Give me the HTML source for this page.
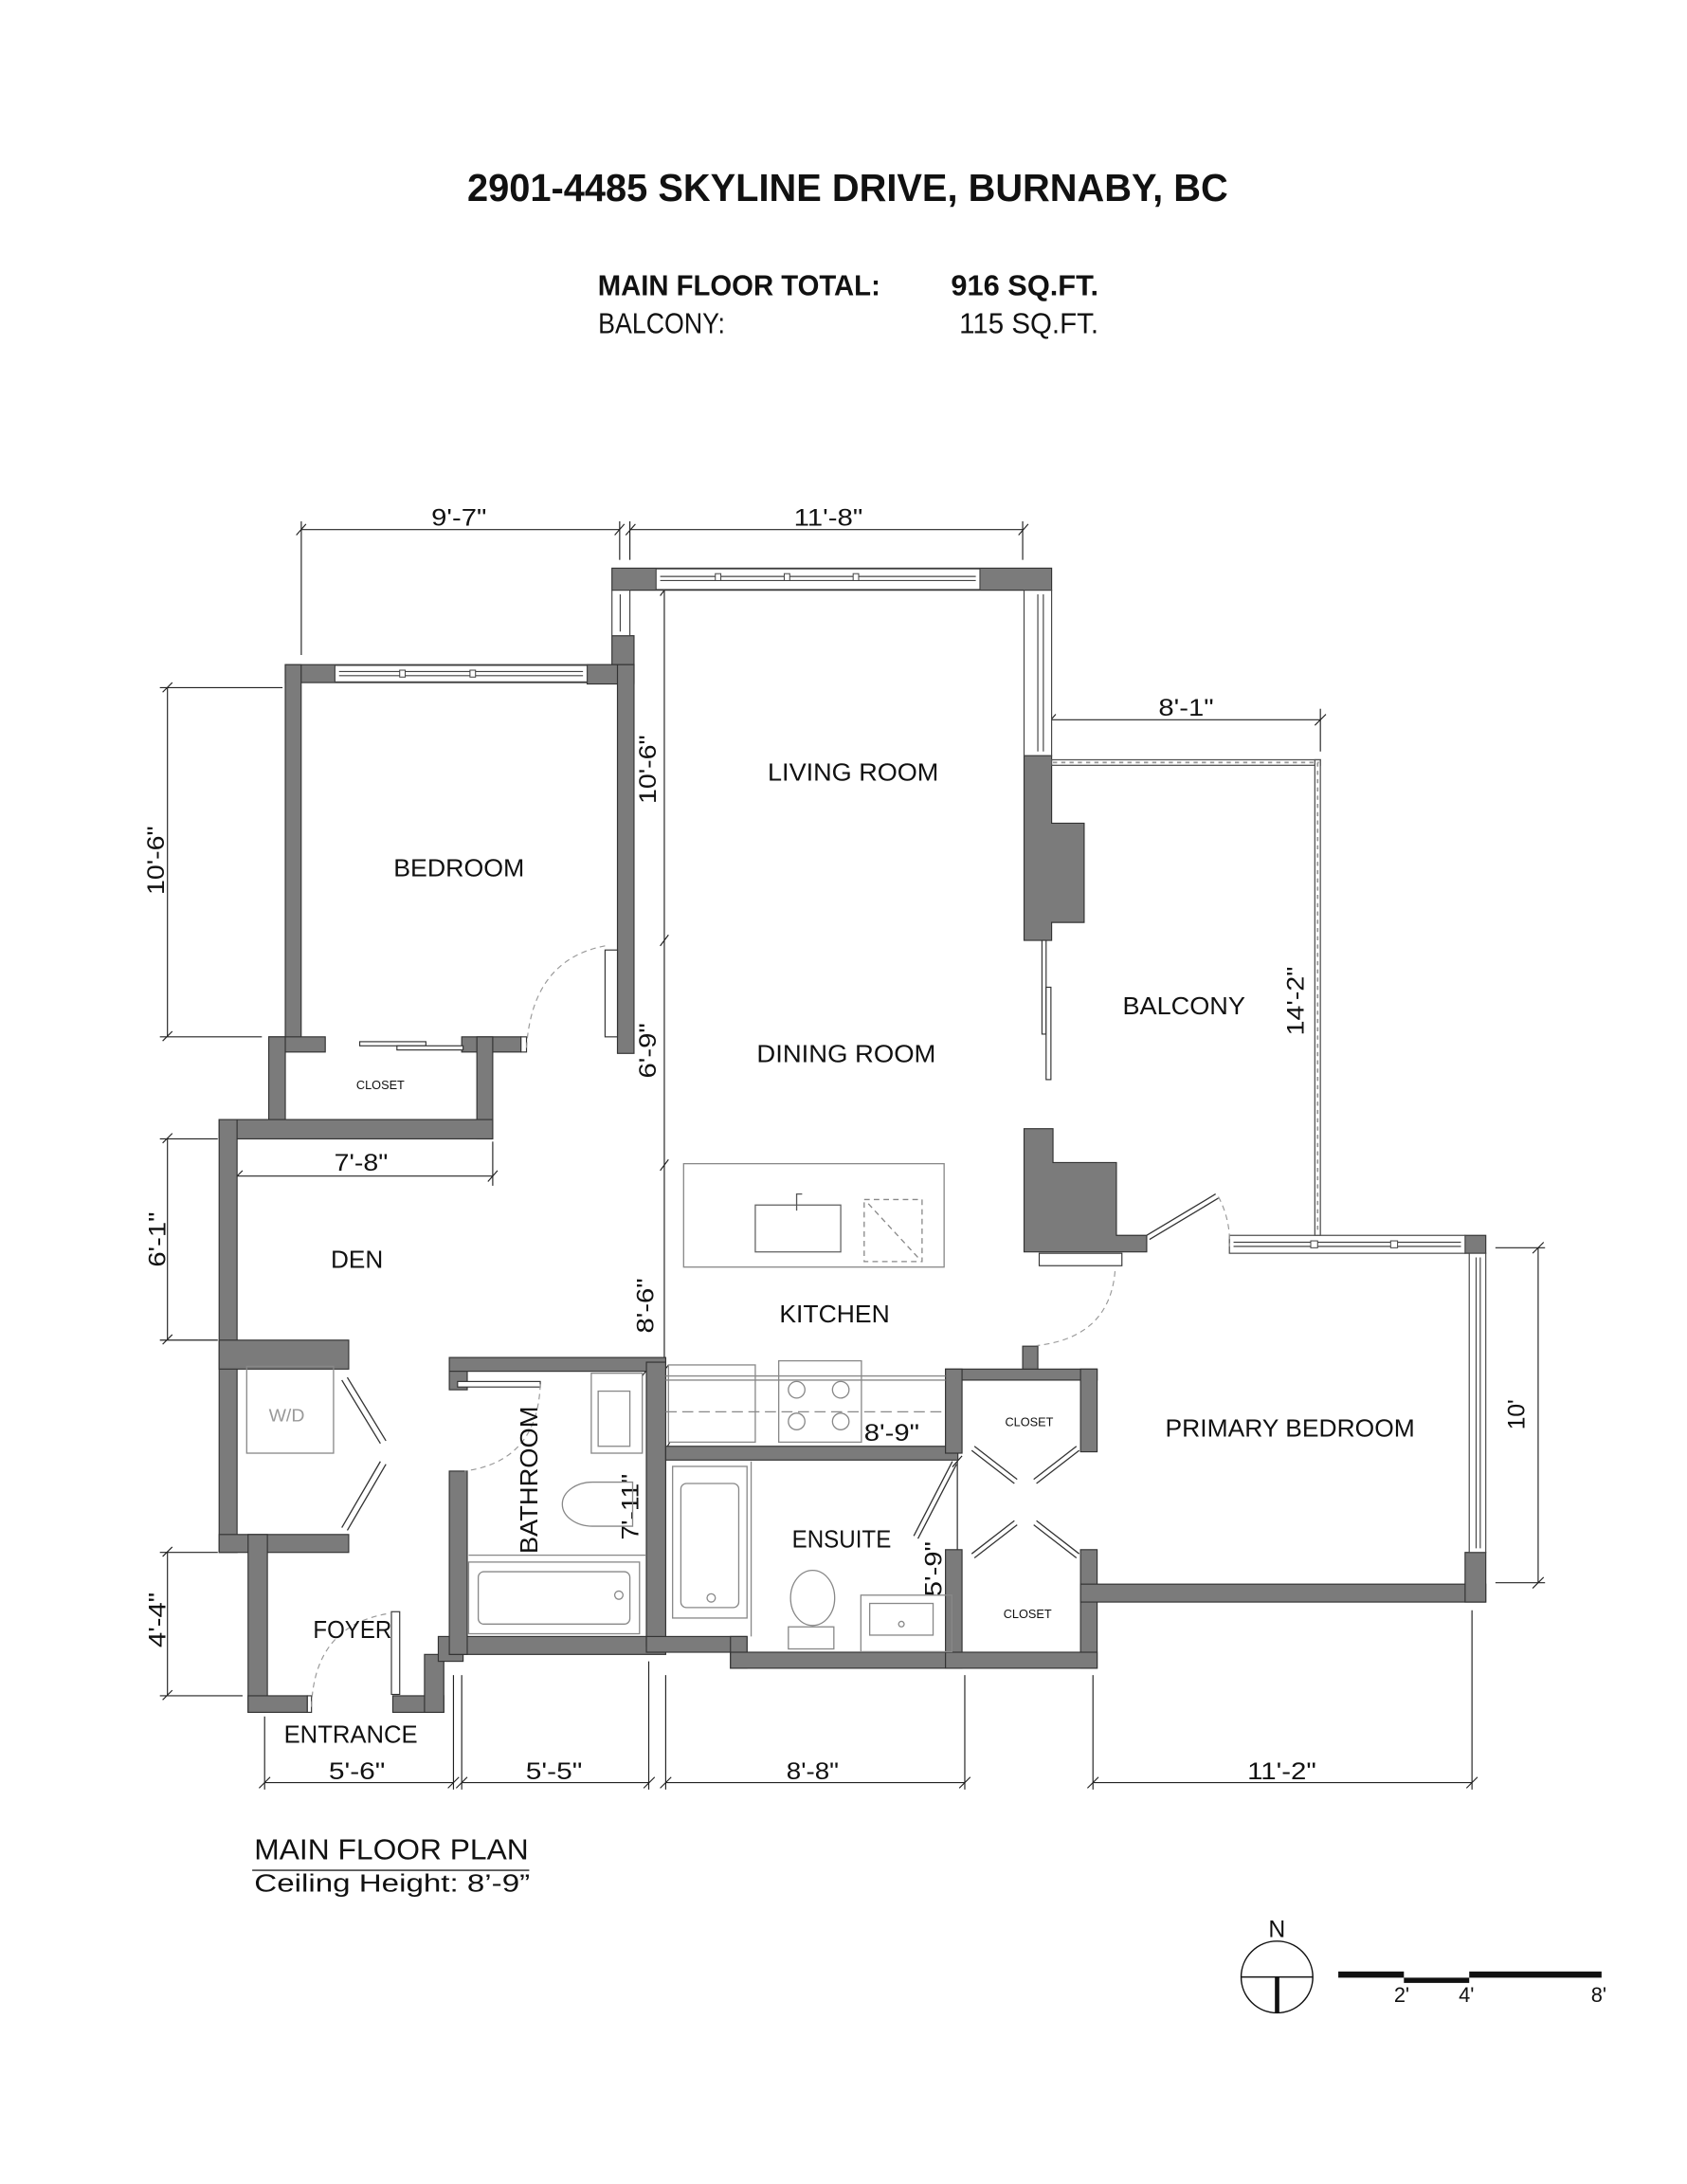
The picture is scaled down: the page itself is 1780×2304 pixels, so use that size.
<!DOCTYPE html>
<html><head><meta charset="utf-8"><style>
html,body{margin:0;padding:0;background:#fff;}
svg{display:block;}
text{font-family:"Liberation Sans",sans-serif;fill:#111;}
</style></head><body>
<svg width="1780" height="2304" viewBox="0 0 1224 1584" xmlns="http://www.w3.org/2000/svg">
<rect width="1224" height="1584" fill="#fff"/>
<!-- Title block -->
<text x="339" y="145.5" font-size="28" font-weight="bold" textLength="552" lengthAdjust="spacingAndGlyphs">2901-4485 SKYLINE DRIVE, BURNABY, BC</text>
<text x="433.7" y="214" font-size="21" font-weight="bold" textLength="205" lengthAdjust="spacingAndGlyphs">MAIN FLOOR TOTAL:</text>
<text x="690" y="214" font-size="21" font-weight="bold" textLength="107" lengthAdjust="spacingAndGlyphs">916 SQ.FT.</text>
<text x="434" y="241.6" font-size="21" textLength="92" lengthAdjust="spacingAndGlyphs">BALCONY:</text>
<text x="696" y="241.6" font-size="21" textLength="101" lengthAdjust="spacingAndGlyphs">115 SQ.FT.</text>

<g stroke="#222" stroke-width="0.8" fill="none">
<line x1="218.6" y1="384" x2="449.6" y2="384"/>
<line x1="457" y1="384" x2="742" y2="384"/>
<line x1="218.6" y1="378" x2="218.6" y2="475"/>
<line x1="449.6" y1="378" x2="449.6" y2="406"/>
<line x1="457" y1="378" x2="457" y2="406"/>
<line x1="742" y1="378" x2="742" y2="406"/>
<path d="M215,388 L222,380 M446,388 L453,380 M454,388 L461,380 M739,388 L746,380"/>
<line x1="121.5" y1="498.7" x2="121.5" y2="752"/>
<line x1="116" y1="498.7" x2="205" y2="498.7"/>
<line x1="116" y1="752" x2="190" y2="752"/>
<line x1="121.5" y1="826" x2="121.5" y2="972"/>
<line x1="116" y1="826" x2="158" y2="826"/>
<line x1="116" y1="972" x2="158" y2="972"/>
<line x1="121.5" y1="1126" x2="121.5" y2="1230"/>
<line x1="116" y1="1126" x2="158" y2="1126"/>
<line x1="116" y1="1230" x2="176" y2="1230"/>
<path d="M118,502 L125,495 M118,755 L125,748 M118,829 L125,822 M118,975 L125,968 M118,1129 L125,1122 M118,1233 L125,1226"/>
<line x1="192" y1="1293" x2="329" y2="1293"/>
<line x1="335" y1="1293" x2="470.7" y2="1293"/>
<line x1="483" y1="1293" x2="700" y2="1293"/>
<line x1="793" y1="1293" x2="1068" y2="1293"/>
<line x1="192" y1="1245" x2="192" y2="1298"/>
<line x1="329" y1="1215" x2="329" y2="1298"/>
<line x1="335" y1="1215" x2="335" y2="1298"/>
<line x1="470.7" y1="1205" x2="470.7" y2="1298"/>
<line x1="483" y1="1215" x2="483" y2="1298"/>
<line x1="700" y1="1215" x2="700" y2="1298"/>
<line x1="793" y1="1215" x2="793" y2="1298"/>
<line x1="1068" y1="1168" x2="1068" y2="1298"/>
<path d="M188,1297 L196,1289 M325,1297 L333,1289 M331,1297 L339,1289 M467,1297 L475,1289 M479,1297 L487,1289 M696,1297 L704,1289 M789,1297 L797,1289 M1064,1297 L1072,1289"/>
<line x1="1116" y1="905" x2="1116" y2="1148"/>
<line x1="1085" y1="905" x2="1121" y2="905"/>
<line x1="1085" y1="1148" x2="1121" y2="1148"/>
<path d="M1112,909 L1120,901 M1112,1152 L1120,1144"/>
<line x1="762.4" y1="522" x2="958" y2="522"/>
<line x1="958" y1="514" x2="958" y2="545"/>
<path d="M759,526 L766,518 M954,526 L962,518"/>
<line x1="482" y1="428" x2="482" y2="994"/>
<path d="M479,432 L485,424 M479,686 L485,678 M479,849 L485,841 M479,998 L485,990"/>
<line x1="171.8" y1="853" x2="357.5" y2="853"/>
<line x1="357.5" y1="828" x2="357.5" y2="860"/>
<path d="M168,857 L176,849 M354,857 L361,849"/>
<line x1="469" y1="994" x2="469" y2="1190"/>
<path d="M466,998 L472,990 M466,1193 L472,1186"/>
<line x1="694.6" y1="1060" x2="694.6" y2="1198"/>
<path d="M691,1064 L698,1056 M691,1202 L698,1194"/>
<path d="M481,1055 L486,1046 M692,1055 L697,1046"/>
</g>

<g font-size="17">
<text x="333" y="381" text-anchor="middle" textLength="40" lengthAdjust="spacingAndGlyphs">9'-7"</text>
<text x="601" y="381" text-anchor="middle" textLength="50" lengthAdjust="spacingAndGlyphs">11'-8"</text>
<text x="860.6" y="519" text-anchor="middle" textLength="40" lengthAdjust="spacingAndGlyphs">8'-1"</text>
<text x="259" y="1290.6" text-anchor="middle" textLength="41" lengthAdjust="spacingAndGlyphs">5'-6"</text>
<text x="402" y="1290.6" text-anchor="middle" textLength="41" lengthAdjust="spacingAndGlyphs">5'-5"</text>
<text x="589.6" y="1290.6" text-anchor="middle" textLength="38" lengthAdjust="spacingAndGlyphs">8'-8"</text>
<text x="930" y="1290.6" text-anchor="middle" textLength="50" lengthAdjust="spacingAndGlyphs">11'-2"</text>
<text x="262" y="849" text-anchor="middle" textLength="39" lengthAdjust="spacingAndGlyphs">7'-8"</text>
<text x="647" y="1045" text-anchor="middle" textLength="40" lengthAdjust="spacingAndGlyphs">8'-9"</text>
<text transform="translate(119,624) rotate(-90)" text-anchor="middle" textLength="50" lengthAdjust="spacingAndGlyphs">10'-6"</text>
<text transform="translate(120,899) rotate(-90)" text-anchor="middle" textLength="40" lengthAdjust="spacingAndGlyphs">6'-1"</text>
<text transform="translate(120,1175) rotate(-90)" text-anchor="middle" textLength="40" lengthAdjust="spacingAndGlyphs">4'-4"</text>
<text transform="translate(1106,1026) rotate(-90)" text-anchor="middle" textLength="22" lengthAdjust="spacingAndGlyphs">10'</text>
<text transform="translate(946,726) rotate(-90)" text-anchor="middle" textLength="50" lengthAdjust="spacingAndGlyphs">14'-2"</text>
<text transform="translate(476,558) rotate(-90)" text-anchor="middle" textLength="50" lengthAdjust="spacingAndGlyphs">10'-6"</text>
<text transform="translate(476,762) rotate(-90)" text-anchor="middle" textLength="40" lengthAdjust="spacingAndGlyphs">6'-9"</text>
<text transform="translate(474,947) rotate(-90)" text-anchor="middle" textLength="40" lengthAdjust="spacingAndGlyphs">8'-6"</text>
<text transform="translate(463,1093) rotate(-90)" text-anchor="middle" textLength="48" lengthAdjust="spacingAndGlyphs">7'-11"</text>
<text transform="translate(683,1138) rotate(-90)" text-anchor="middle" textLength="40" lengthAdjust="spacingAndGlyphs">5'-9"</text>
</g>

<g fill="#7b7b7b" stroke="#333" stroke-width="0.8">
<rect x="444" y="412" width="319" height="16"/>
<rect x="444" y="461" width="16" height="21"/>
<rect x="207" y="482" width="253" height="13"/>
<rect x="426" y="482" width="34" height="14"/>
<rect x="448" y="482" width="12" height="282"/>
<rect x="207" y="482" width="11.5" height="275"/>
<rect x="195" y="752" width="41" height="11"/>
<rect x="335" y="752" width="43" height="11"/>
<rect x="195" y="752" width="12" height="70"/>
<rect x="346" y="752" width="11.5" height="74"/>
<rect x="159" y="812" width="198.5" height="14"/>
<rect x="159" y="812" width="13" height="314"/>
<rect x="159" y="972" width="94" height="21"/>
<rect x="159" y="1113" width="94" height="13"/>
<rect x="180" y="1113" width="14" height="129"/>
<rect x="180" y="1230" width="43" height="12"/>
<rect x="285" y="1230" width="37" height="12"/>
<rect x="308" y="1200" width="14" height="42"/>
<rect x="318" y="1187" width="18" height="18"/>
<rect x="326" y="1187" width="157" height="13"/>
<rect x="326" y="1067" width="13" height="133"/>
<rect x="326" y="984.6" width="13" height="23.4"/>
<rect x="326" y="984.6" width="157" height="10"/>
<rect x="469" y="988" width="14" height="206"/>
<rect x="483" y="1049" width="212" height="10"/>
<rect x="469" y="1187" width="73" height="11.4"/>
<rect x="530" y="1187" width="12" height="23"/>
<rect x="530" y="1198.4" width="165" height="11.6"/>
<rect x="686" y="993" width="110" height="8"/>
<rect x="686" y="993" width="12" height="61"/>
<rect x="686" y="1124" width="12" height="86"/>
<rect x="784" y="993" width="12" height="60"/>
<rect x="784" y="1124" width="12" height="86"/>
<rect x="686" y="1198.4" width="110" height="11.6"/>
<rect x="742" y="976.4" width="11" height="16.6"/>
<rect x="784" y="1149" width="294" height="13"/>
<rect x="1063" y="1126" width="15" height="36"/>
<rect x="1063" y="896" width="15" height="13"/>
<path d="M743,548 H763 V597 H786.6 V669 H763 V682 H743 Z"/>
<path d="M743,818.6 H764 V843.2 H810 V896 H832 V908 H743 Z"/>
</g>

<g fill="#fff" stroke="#444" stroke-width="0.8">
<rect x="476" y="412.5" width="235" height="15"/>
<line x1="479" y1="418" x2="708" y2="418"/>
<line x1="479" y1="421" x2="708" y2="421"/>
<rect x="444" y="428" width="13" height="33"/>
<line x1="450" y1="431" x2="450" y2="458"/>
<rect x="243" y="482.5" width="183" height="12"/>
<line x1="246" y1="487" x2="423" y2="487"/>
<line x1="246" y1="490" x2="423" y2="490"/>
<rect x="743" y="428" width="20" height="120"/>
<line x1="753" y1="431" x2="753" y2="545"/>
<line x1="757" y1="431" x2="757" y2="545"/>
<rect x="892" y="896" width="171" height="13"/>
<line x1="895" y1="901" x2="1060" y2="901"/>
<line x1="895" y1="904" x2="1060" y2="904"/>
<rect x="1066" y="909" width="12" height="217"/>
<line x1="1071" y1="912" x2="1071" y2="1123"/>
<line x1="1074" y1="912" x2="1074" y2="1123"/>
</g>
<g fill="#fff" stroke="#444" stroke-width="0.7">
<rect x="290" y="486" width="4" height="5"/><rect x="341" y="486" width="4" height="5"/>
<rect x="519" y="416" width="4" height="5"/><rect x="569" y="416" width="4" height="5"/><rect x="619" y="416" width="4" height="5"/>
<rect x="951" y="900" width="5" height="5"/><rect x="1009" y="900" width="5" height="5"/>
</g>

<g fill="#fff" stroke="#555" stroke-width="0.9">
<rect x="763" y="551" width="195" height="4"/>
<rect x="954" y="551" width="4" height="345"/>
</g>
<g stroke="#999" stroke-width="1.2" stroke-dasharray="3,3">
<line x1="764" y1="553" x2="957" y2="553"/>
<line x1="956" y1="553" x2="956" y2="895"/>
</g>

<g fill="#fff" stroke="#333" stroke-width="0.8">
<rect x="756" y="682" width="3" height="68"/>
<rect x="759" y="716" width="3.5" height="67"/>
<rect x="754" y="909" width="60" height="9"/>
<rect x="378" y="752" width="4" height="11"/>
<rect x="439" y="689" width="9" height="63"/>
<rect x="261" y="755.5" width="48" height="3"/>
<rect x="288" y="758.5" width="48" height="3"/>
<rect x="284" y="1169" width="6" height="60"/>
<rect x="332" y="1002" width="60" height="4"/>
<rect x="223" y="1230" width="3" height="12"/>
</g>
<g stroke="#333" stroke-width="0.9" fill="none">
<path d="M832,896 L882,866 M834,899 L884,869"/>
<path d="M248,1001 L276,1047 M252,999 L280,1045"/>
<path d="M276,1060 L248,1108 M280,1062 L252,1110"/>
<path d="M694,1062 L666,1116 M691,1060 L663,1114"/>
<path d="M705,1052 L736,1076 M707,1049 L738,1073"/>
<path d="M783,1052 L752,1076 M781,1049 L750,1073"/>
<path d="M705,1127 L736,1103 M707,1130 L738,1106"/>
<path d="M783,1127 L752,1103 M781,1130 L750,1106"/>
</g>
<g stroke="#999" stroke-width="0.8" fill="none" stroke-dasharray="4,3">
<path d="M382,760 Q386,696 439,686"/>
<path d="M884,868 Q893,885 892,904"/>
<path d="M809,922 Q805,970 752,976"/>
<path d="M392,1004 Q390,1060 337,1067"/>
<path d="M226,1238 Q228,1178 284,1170"/>
</g>

<g fill="none" stroke="#888" stroke-width="0.9">
<rect x="496" y="844" width="189" height="75"/>
<rect x="548" y="874" width="62" height="34" stroke="#666"/>
<path d="M578,878 V866 H582" stroke="#555"/>
<rect x="627" y="870" width="42" height="45" stroke-dasharray="4,3"/>
<line x1="630" y1="873" x2="666" y2="912" stroke-dasharray="4,3"/>
<line x1="483" y1="998" x2="686" y2="998"/>
<line x1="483" y1="1001" x2="686" y2="1001"/>
<line x1="483" y1="1024" x2="686" y2="1024" stroke-dasharray="8,4"/>
<rect x="485" y="990" width="63" height="56"/>
<rect x="565" y="987" width="60" height="59"/>
<circle cx="578" cy="1008" r="6"/><circle cx="610" cy="1008" r="6"/>
<circle cx="578" cy="1031" r="6"/><circle cx="610" cy="1031" r="6"/>
<rect x="429" y="996" width="37" height="58"/>
<rect x="434" y="1009" width="23" height="40"/>
<path d="M459,1075 H430 A22,16 0 0 0 430,1107 H459 Z"/>
<rect x="340" y="1133" width="124" height="52"/>
<rect x="347" y="1140" width="110" height="38" rx="4"/>
<circle cx="449" cy="1157" r="3"/>
<line x1="340" y1="1128" x2="469" y2="1128"/>
<rect x="488" y="1063.6" width="54" height="110"/>
<rect x="494" y="1076" width="42" height="90" rx="4"/>
<circle cx="516" cy="1159" r="3"/>
<line x1="545" y1="1060" x2="545" y2="1187"/>
<rect x="572" y="1180" width="33" height="16"/>
<ellipse cx="589.6" cy="1159" rx="16" ry="20"/>
<rect x="624.6" y="1157" width="66" height="41"/>
<rect x="631" y="1163" width="46" height="23"/>
<circle cx="654" cy="1178" r="2"/>
<rect x="179" y="991" width="63" height="63"/>
</g>

<g font-size="18">
<text x="619" y="566" text-anchor="middle" textLength="124" lengthAdjust="spacingAndGlyphs">LIVING ROOM</text>
<text x="333" y="635.5" text-anchor="middle" textLength="95" lengthAdjust="spacingAndGlyphs">BEDROOM</text>
<text x="614" y="770.5" text-anchor="middle" textLength="130" lengthAdjust="spacingAndGlyphs">DINING ROOM</text>
<text x="859" y="735.5" text-anchor="middle" textLength="89" lengthAdjust="spacingAndGlyphs">BALCONY</text>
<text x="259" y="919.5" text-anchor="middle" textLength="38" lengthAdjust="spacingAndGlyphs">DEN</text>
<text x="605.5" y="959" text-anchor="middle" textLength="80" lengthAdjust="spacingAndGlyphs">KITCHEN</text>
<text x="936" y="1042" text-anchor="middle" textLength="181" lengthAdjust="spacingAndGlyphs">PRIMARY BEDROOM</text>
<text x="610.6" y="1122.5" text-anchor="middle" textLength="72" lengthAdjust="spacingAndGlyphs">ENSUITE</text>
<text x="255.7" y="1188" text-anchor="middle" textLength="57" lengthAdjust="spacingAndGlyphs">FOYER</text>
<text x="254.5" y="1264" text-anchor="middle" textLength="97" lengthAdjust="spacingAndGlyphs">ENTRANCE</text>
<text transform="translate(390,1073.5) rotate(-90)" text-anchor="middle" textLength="107" lengthAdjust="spacingAndGlyphs">BATHROOM</text>
</g>
<g font-size="9">
<text x="276" y="790" text-anchor="middle" textLength="35" lengthAdjust="spacingAndGlyphs">CLOSET</text>
<text x="746.7" y="1034.5" text-anchor="middle" textLength="35" lengthAdjust="spacingAndGlyphs">CLOSET</text>
<text x="745.5" y="1173.5" text-anchor="middle" textLength="35" lengthAdjust="spacingAndGlyphs">CLOSET</text>
</g>
<text x="208" y="1031" font-size="13" text-anchor="middle" style="fill:#999" textLength="26" lengthAdjust="spacingAndGlyphs">W/D</text>

<text x="184.5" y="1348.6" font-size="21" textLength="199" lengthAdjust="spacingAndGlyphs">MAIN FLOOR PLAN</text>
<line x1="183" y1="1356.6" x2="384" y2="1356.6" stroke="#222" stroke-width="1"/>
<text x="184.5" y="1372" font-size="18" textLength="200" lengthAdjust="spacingAndGlyphs">Ceiling Height: 8’-9”</text>

<circle cx="926.5" cy="1434" r="26" fill="none" stroke="#111" stroke-width="1"/>
<line x1="900.5" y1="1434" x2="952.5" y2="1434" stroke="#111" stroke-width="1"/>
<rect x="925" y="1434" width="3.2" height="26" fill="#111"/>
<text x="926.5" y="1405" font-size="17" text-anchor="middle">N</text>
<rect x="971" y="1430" width="47.6" height="4.5" fill="#111"/>
<rect x="1018.6" y="1434.5" width="47.4" height="3.8" fill="#111"/>
<rect x="1066" y="1430" width="96" height="4.5" fill="#111"/>
<text x="1017" y="1452" font-size="15" text-anchor="middle">2'</text>
<text x="1064" y="1452" font-size="15" text-anchor="middle">4'</text>
<text x="1160" y="1452" font-size="15" text-anchor="middle">8'</text>
</svg>
</body></html>
